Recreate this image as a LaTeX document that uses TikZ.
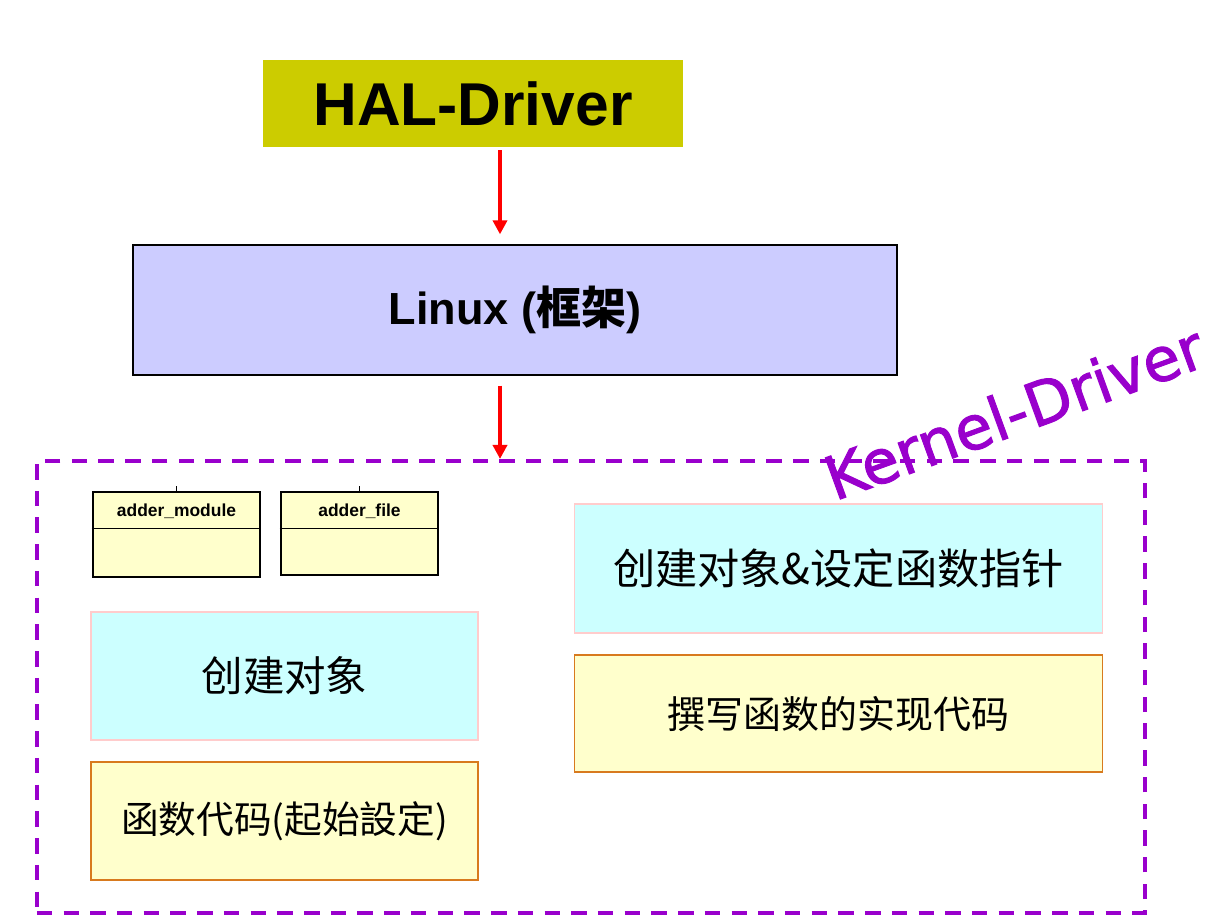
\documentclass[tikz,border=0pt]{standalone}
\usepackage{fontspec}
\setmainfont{Liberation Sans}
\newfontfamily\cjk{Noto Sans CJK SC}
\newfontfamily\verd[FakeBold=1.6]{DejaVu Sans}
\usepackage{tikz}
\usetikzlibrary{positioning,arrows.meta}
\usepackage{xcolor}
\definecolor{halgelb}{HTML}{CCCC00}
\definecolor{linuxlila}{HTML}{CCCCFF}
\definecolor{kernlila}{HTML}{9900CC}
\definecolor{objcyan}{HTML}{CCFFFF}
\definecolor{objrand}{HTML}{FFCCCC}
\definecolor{codegelb}{HTML}{FFFFCC}
\definecolor{coderand}{HTML}{D87A1E}

\begin{document}
\begin{tikzpicture}[x=0.025cm,y=-0.025cm,
    pfeil/.style={-{Triangle[length=10pt,width=10pt]}, line width=2.8pt, red},
    objbox/.style={draw=objrand, fill=objcyan, line width=0.8pt},
    codebox/.style={draw=coderand, fill=codegelb, line width=0.8pt},
    umlbox/.style={draw, fill=codegelb, line width=2pt},
    umltext/.style={font=\bfseries\fontsize{12.4}{14}\selectfont},
    cjktext/.style={font=\cjk\fontsize{#1}{34}\selectfont}]
            \useasboundingbox (0,0) rectangle (1226,924);

            % 上层
            \node[fill=halgelb, minimum width=10.5cm, minimum height=2.175cm,
                  font=\bfseries\fontsize{43}{50}\selectfont] (hal) at (473,103.5) {HAL-Driver};
            \node[draw, fill=linuxlila, line width=1.1pt, minimum width=19.1cm, minimum height=3.25cm,
                  font=\bfseries\fontsize{32}{38}\selectfont] (linux) at (515,310) {Linux ({\cjk\bfseries 框架})};

            % Kernel-Driver 框
            \node[draw=kernlila, line width=2.8pt, dash pattern=on 11pt off 8pt,
                  minimum width=27.7cm, minimum height=11.3cm] (kd) at (591,687) {};
            \node[rotate=20, text=kernlila, font=\verd\fontsize{43}{50}\selectfont] (kdname) at (1014,412) {Kernel-Driver};

            % 箭头
            \coordinate (ax) at (500,0);
            \draw[pfeil, shorten <=2pt, shorten >=7pt] (hal.south -| ax) -- (linux.north -| ax);
            \draw[pfeil, shorten <=7pt] (linux.south -| ax) -- (kd.north -| ax);

            % 类
            \node[umlbox, minimum width=4.175cm, minimum height=2.125cm] (module) at (176.5,534.5) {};
            \draw[line width=1pt] ([yshift=-0.95cm]module.north west) -- ([yshift=-0.95cm]module.north east);
            \draw (module.north) -- ++(0,-5);
            \node[umltext] (modname) at ([yshift=-0.52cm]module.north) {adder\_module};

            \node[umlbox, minimum width=3.925cm, minimum height=2.075cm] (file) at (359.5,533.5) {};
            \draw[line width=1pt] ([yshift=-0.95cm]file.north west) -- ([yshift=-0.95cm]file.north east);
            \draw (file.north) -- ++(0,-5);
            \node[umltext] (filename) at ([yshift=-0.52cm]file.north) {adder\_file};

            % 左边
            \node[objbox, minimum width=9.675cm, minimum height=3.2cm, cjktext=29.5] (obj) at (284.5,676) {创建对象};
            \node[codebox, minimum width=9.675cm, minimum height=2.95cm, cjktext=26.8] (init) at (284.5,821) {函数代码(起始設定)};

            % 右边
            \node[objbox, minimum width=13.175cm, minimum height=3.225cm, cjktext=30] (objfp) at (838.5,568.5) {创建对象\&设定函数指针};
            \node[codebox, minimum width=13.175cm, minimum height=2.925cm, cjktext=27] (impl) at (838.5,713.5) {撰写函数的实现代码};
        \end{tikzpicture}
\end{document}
